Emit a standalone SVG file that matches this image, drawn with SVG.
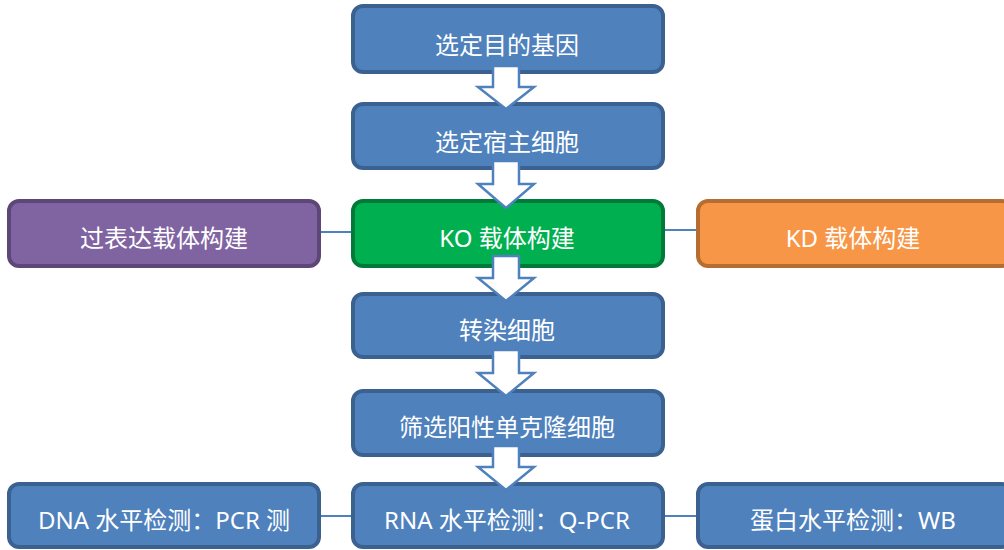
<svg xmlns="http://www.w3.org/2000/svg" width="1004" height="550" viewBox="0 0 1004 550">
<style>
.box{stroke-width:4}
.blue{fill:#4f81bd;stroke:#3a6190}
.green{fill:#00b050;stroke:#007a38}
.purple{fill:#8064a2;stroke:#5c4776}
.orange{fill:#f79646;stroke:#b66d31}
.t{fill:#fff;font-family:"Noto Sans","Noto Sans CJK SC",sans-serif;font-size:24px;text-anchor:middle}
.arr{fill:#fff;stroke:#4f81bd;stroke-width:2.5;stroke-linejoin:miter}
.ln{stroke:#4f81bd;stroke-width:2;fill:none}
</style>
<g id="connectors">
<line class="ln" x1="320" y1="232" x2="353" y2="232"/>
<line class="ln" x1="663" y1="230" x2="698" y2="230"/>
<line class="ln" x1="320" y1="516" x2="353" y2="516"/>
<line class="ln" x1="663" y1="516" x2="698" y2="516"/>
</g>
<g id="n1"><rect class="box blue" x="353" y="6" width="310" height="66" rx="10"/><text class="t" x="507" y="54">选定目的基因</text></g>
<g id="n2"><rect class="box blue" x="353" y="104" width="310" height="64" rx="10"/><text class="t" x="507" y="151">选定宿主细胞</text></g>
<g id="n3"><rect class="box green" x="353" y="201" width="310" height="65" rx="10"/><text class="t" x="507" y="247">KO 载体构建</text></g>
<g id="n_left"><rect class="box purple" x="9" y="201" width="310" height="65" rx="10"/><text class="t" x="164" y="247">过表达载体构建</text></g>
<g id="n_right"><rect class="box orange" x="698" y="201" width="314" height="65" rx="10"/><text class="t" x="853" y="247">KD 载体构建</text></g>
<g id="n4"><rect class="box blue" x="353" y="294" width="310" height="63" rx="10"/><text class="t" x="507" y="339">转染细胞</text></g>
<g id="n5"><rect class="box blue" x="353" y="391" width="310" height="64" rx="10"/><text class="t" x="507" y="436">筛选阳性单克隆细胞</text></g>
<g id="n6"><rect class="box blue" x="353" y="484" width="310" height="63" rx="10"/><text class="t" x="507" y="529">RNA 水平检测：Q-PCR</text></g>
<g id="n_bl"><rect class="box blue" x="9" y="484" width="310" height="63" rx="10"/><text class="t" x="164" y="529">DNA 水平检测：PCR 测</text></g>
<g id="n_br"><rect class="box blue" x="698" y="484" width="314" height="63" rx="10"/><text class="t" x="853" y="529">蛋白水平检测：WB</text></g>
<g id="arrows">
<polygon class="arr" points="493,66 519,66 519,87 534,87 506,109 478,87 493,87"/>
<polygon class="arr" points="493,161 519,161 519,184 534,184 506,208 478,184 493,184"/>
<polygon class="arr" points="493,256 519,256 519,278 534,278 506,301 478,278 493,278"/>
<polygon class="arr" points="493,350 519,350 519,373 534,373 506,396 478,373 493,373"/>
<polygon class="arr" points="493,446 519,446 519,467 534,467 506,490 478,467 493,467"/>
</g>
</svg>
